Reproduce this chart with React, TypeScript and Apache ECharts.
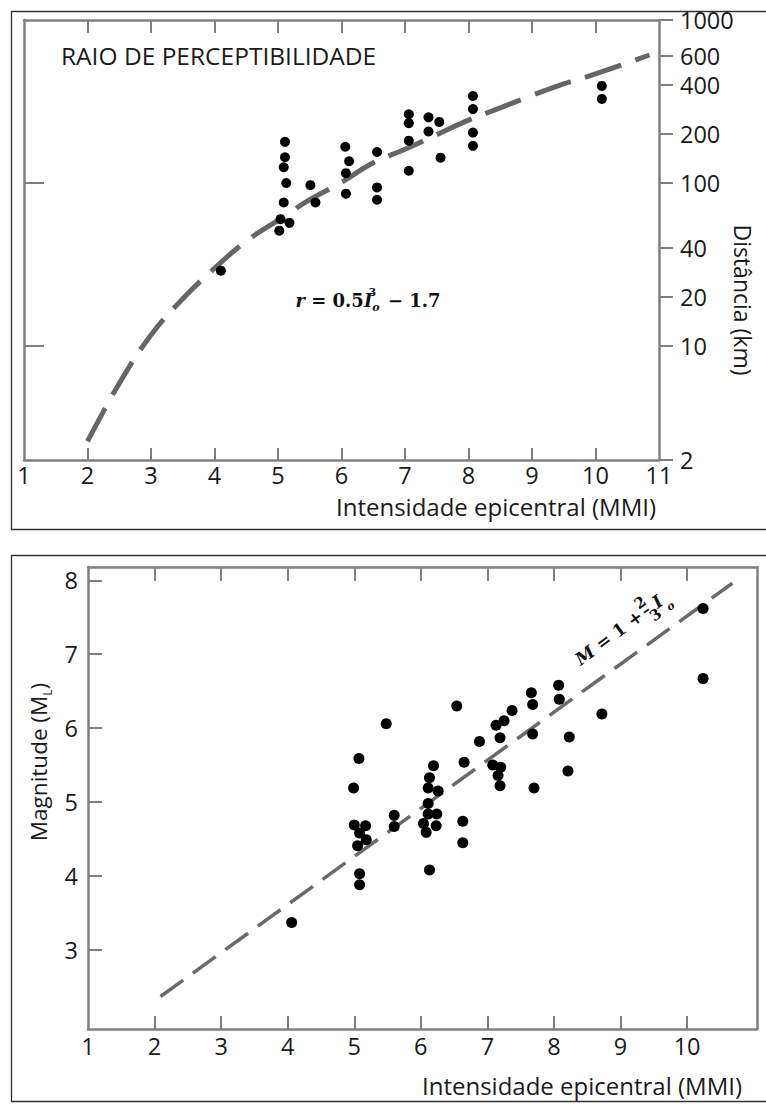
import React, { useEffect, useRef } from "react";
import * as echarts from "echarts";

// ---- Top chart: Raio de perceptibilidade ----
const topIntensity = [
  4.1,
  5.11, 5.11, 5.09, 5.13, 5.09, 5.04, 5.18, 5.02,
  5.51, 5.59,
  6.06, 6.12, 6.07, 6.07,
  6.56, 6.56, 6.56,
  7.06, 7.06, 7.06, 7.06,
  7.37, 7.37,
  7.54, 7.56,
  8.07, 8.07, 8.07, 8.07,
  10.1, 10.1,
];
const topDistance = [
  29,
  179, 144, 125, 100, 76, 60, 57, 51,
  97, 76,
  167, 136, 115, 86,
  155, 94, 79,
  264, 233, 182, 119,
  253, 207,
  237, 143,
  342, 284, 204, 169,
  394, 328,
];
const topCurveI = [2, 2.5, 3, 3.5, 4, 4.5, 5, 5.5, 6, 6.5, 7, 7.5, 8, 8.5, 9, 9.5, 10, 10.85];
const topCurveR = [2.6, 5.9, 11.7, 19.5, 30, 44, 59, 79, 101, 133, 161, 198, 243, 289, 345, 406, 467, 610];
const topXLabels = [1, 2, 3, 4, 5, 6, 7, 8, 9, 10, 11];
const topXTicks = [2, 3, 4, 5, 6, 7, 8, 9, 10];
const topYTicks = [2, 10, 20, 40, 100, 200, 400, 600, 1000];
const topLeftTicks = [10, 100];

// ---- Bottom chart: Magnitude vs intensidade ----
const bottomIntensity = [
  4.06, 5.48, 5.07, 4.99, 5.0, 5.17, 5.08, 5.18, 5.05, 5.08, 5.08, 5.6, 5.6,
  6.54, 6.19, 6.13, 6.11, 6.26, 6.11, 6.11, 6.24, 6.04, 6.23, 6.08, 6.13,
  6.65, 6.63, 6.63, 6.88, 7.13, 7.25, 7.37, 7.19, 7.08, 7.2, 7.16, 7.19,
  7.66, 7.68, 7.68, 7.7, 8.07, 8.08, 8.23, 8.21, 8.72, 10.24, 10.24,
];
const bottomMagnitude = [
  3.37, 6.06, 5.59, 5.19, 4.69, 4.68, 4.58, 4.49, 4.41, 4.03, 3.88, 4.82, 4.67,
  6.3, 5.49, 5.33, 5.19, 5.15, 4.98, 4.84, 4.84, 4.71, 4.68, 4.59, 4.08,
  5.54, 4.74, 4.45, 5.82, 6.04, 6.1, 6.24, 5.87, 5.5, 5.47, 5.36, 5.22,
  6.48, 6.32, 5.92, 5.19, 6.58, 6.39, 5.88, 5.42, 6.19, 7.62, 6.67,
];
const bottomLineI = [2.09, 10.68];
const bottomLineM = [2.37, 7.96];
const bottomXLabels = [1, 2, 3, 4, 5, 6, 7, 8, 9, 10];
const bottomXTicks = [2, 3, 4, 5, 6, 7, 8, 9, 10];
const bottomYTicks = [3, 4, 5, 6, 7, 8];

const AX = "#7f7f7f";
const TXT = "#1a1a1a";
const FONT = "'Open Sans', sans-serif";
const SERIF = "'DejaVu Serif', 'Liberation Serif', serif";

export default function App() {
  const ref = useRef<HTMLDivElement>(null);

  useEffect(() => {
    document.body.style.margin = "0";
    const chart = echarts.init(ref.current!, null, { renderer: "svg" });

    const line = { show: true, onZero: false, lineStyle: { color: AX, width: 2.5 } };
    const tick = (len: number, inside: boolean, vals: number[]) => ({
      show: true,
      inside,
      length: len,
      customValues: vals,
      lineStyle: { color: AX, width: 2 },
    });
    const noLabel = { show: false };
    const label = (vals: number[], margin: number) => ({
      show: true,
      customValues: vals,
      fontSize: 23.5,
      lineHeight: 22,
      fontFamily: FONT,
      color: TXT,
      margin,
      showMinLabel: true,
      showMaxLabel: true,
      formatter: (v: number) => String(Math.round(v)),
    });

    const main = (size: number, lh: number, italic: boolean) => ({
      fontSize: size, fontFamily: SERIF, fontWeight: "bold",
      fontStyle: italic ? "italic" : "normal", fill: "#111", lineHeight: lh,
    });

    const option: any = {
      animation: false,
      backgroundColor: "#ffffff",
      grid: [
        { left: 24, top: 20, width: 635, height: 440 },
        { left: 88, top: 567, width: 669, height: 462 },
      ],
      xAxis: [
        {
          type: "value", gridIndex: 0, position: "bottom", min: 1, max: 11,
          axisLine: line, axisTick: tick(12, true, topXTicks),
          axisLabel: label(topXLabels, 4), splitLine: { show: false },
        },
        {
          type: "value", gridIndex: 0, position: "top", min: 1, max: 11,
          axisLine: line, axisTick: tick(13, true, topXTicks),
          axisLabel: noLabel, splitLine: { show: false },
        },
        {
          type: "value", gridIndex: 1, position: "bottom", min: 1, max: 11.05,
          axisLine: line, axisTick: tick(13, true, bottomXTicks),
          axisLabel: label(bottomXLabels, 6), splitLine: { show: false },
        },
        {
          type: "value", gridIndex: 1, position: "top", min: 1, max: 11.05,
          axisLine: line, axisTick: tick(14, true, bottomXTicks),
          axisLabel: noLabel, splitLine: { show: false },
        },
      ],
      yAxis: [
        {
          type: "log", logBase: 10, gridIndex: 0, position: "right", min: 2, max: 1000,
          axisLine: line, axisTick: tick(14, false, topYTicks),
          axisLabel: label(topYTicks, 21), splitLine: { show: false },
        },
        {
          type: "log", logBase: 10, gridIndex: 0, position: "left", min: 2, max: 1000,
          axisLine: line, axisTick: tick(20, true, topLeftTicks),
          axisLabel: noLabel, splitLine: { show: false },
        },
        {
          type: "value", gridIndex: 1, position: "left", min: 1.93, max: 8.18,
          axisLine: line, axisTick: tick(14, true, bottomYTicks),
          axisLabel: label(bottomYTicks, 10), splitLine: { show: false },
        },
        {
          type: "value", gridIndex: 1, position: "right", min: 1.93, max: 8.18,
          axisLine: line, axisTick: { show: false },
          axisLabel: noLabel, splitLine: { show: false },
        },
      ],
      series: [
        {
          type: "line", xAxisIndex: 0, yAxisIndex: 0, z: 1,
          data: topCurveI.map((x, i) => [x, topCurveR[i]]),
          smooth: 0.4, symbol: "none", showSymbol: false,
          lineStyle: { color: "#666666", width: 5, type: [38, 15] },
        },
        {
          type: "scatter", xAxisIndex: 0, yAxisIndex: 0, z: 3,
          data: topIntensity.map((x, i) => [x, topDistance[i]]),
          symbol: "circle", symbolSize: 10, itemStyle: { color: "#000", opacity: 1 },
        },
        {
          type: "line", xAxisIndex: 2, yAxisIndex: 2, z: 1,
          data: bottomLineI.map((x, i) => [x, bottomLineM[i]]),
          symbol: "none", showSymbol: false,
          lineStyle: { color: "#6a6a6a", width: 3.5, type: [28, 12] },
        },
        {
          type: "scatter", xAxisIndex: 2, yAxisIndex: 2, z: 3,
          data: bottomIntensity.map((x, i) => [x, bottomMagnitude[i]]),
          symbol: "circle", symbolSize: 11, itemStyle: { color: "#000", opacity: 1 },
        },
      ],
      graphic: [
        {
          type: "rect", silent: true,
          shape: { x: 11.5, y: 11.5, width: 760, height: 518 },
          style: { fill: "none", stroke: "#333", lineWidth: 1.3 },
        },
        {
          type: "rect", silent: true,
          shape: { x: 11.5, y: 555.5, width: 760, height: 546 },
          style: { fill: "none", stroke: "#333", lineWidth: 1.3 },
        },
        {
          type: "text", x: 61, y: 55,
          style: {
            text: "RAIO DE PERCEPTIBILIDADE", fontSize: 24.5, lineHeight: 26, fontFamily: FONT,
            fill: TXT, align: "left", verticalAlign: "middle",
          },
        },
        {
          type: "text", x: 656, y: 506,
          style: {
            text: "Intensidade epicentral (MMI)", fontSize: 24, lineHeight: 24, fontFamily: FONT,
            fill: TXT, align: "right", verticalAlign: "middle",
          },
        },
        {
          type: "text", x: 742, y: 1085,
          style: {
            text: "Intensidade epicentral (MMI)", fontSize: 24, lineHeight: 24, fontFamily: FONT,
            fill: TXT, align: "right", verticalAlign: "middle",
          },
        },
        {
          type: "text", x: 743, y: 300, rotation: -Math.PI / 2,
          style: {
            text: "Distância (km)", fontSize: 23, lineHeight: 24, fontFamily: FONT,
            fill: TXT, align: "center", verticalAlign: "middle",
          },
        },
        {
          type: "text", x: 38, y: 762, rotation: Math.PI / 2,
          style: {
            text: "{a|Magnitude (M}{s|L}{a|)}", fontSize: 22, fontFamily: FONT,
            fill: TXT, align: "center", verticalAlign: "middle",
            rich: {
              a: { fontSize: 22.5, fontFamily: FONT, fill: TXT, lineHeight: 30 },
              s: { fontSize: 12, fontFamily: FONT, fill: TXT, lineHeight: 14, verticalAlign: "bottom" },
            },
          },
        },
        {
          type: "text", x: 368, y: 300,
          style: {
            text: "{v|r}{n| = 0.5}{v|I}{sup|3}{sub|o}{n| − 1.7}",
            fontSize: 18, fontFamily: SERIF, fill: "#111",
            align: "center", verticalAlign: "middle",
            rich: {
              v: main(18, 26, true),
              n: main(18, 26, false),
              sup: { ...main(11, 12, false), verticalAlign: "top", align: "left", width: 0 },
              sub: { ...main(11, 12, true), verticalAlign: "bottom", align: "left", padding: [0, 2, 0, 0] },
            },
          },
        },
        {
          type: "text", x: 622, y: 628, rotation: (36.5 * Math.PI) / 180,
          style: {
            text: "{v|M}{n| = 1 + }{num|2}{bar|–}{den|3}{v|I}{sub|o}",
            fontSize: 17, fontFamily: SERIF, fill: "#111",
            align: "center", verticalAlign: "middle",
            rich: {
              v: main(17.5, 34, true),
              n: main(17.5, 34, false),
              num: { ...main(15, 15, false), verticalAlign: "top", align: "left", width: 0 },
              bar: { ...main(15, 6, false), verticalAlign: "middle", align: "left", width: 0 },
              den: { ...main(15, 15, false), verticalAlign: "bottom", align: "left" },
              sub: { ...main(11, 12, true), verticalAlign: "bottom", align: "left" },
            },
          },
        },
      ],
    };

    chart.setOption(option);
    return () => chart.dispose();
  }, []);

  return <div ref={ref} style={{ width: 766, height: 1104 }} />;
}
